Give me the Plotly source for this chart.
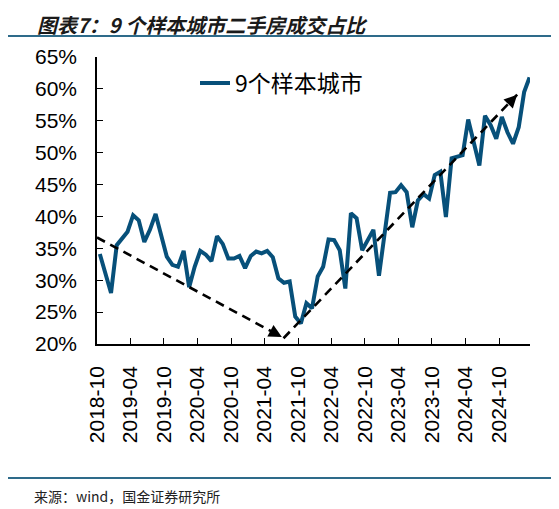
import math
import pandas as pd
import plotly.graph_objects as go

# 9个样本城市二手房成交占比（%），月度 2018-10 ~ 2025-03
months = pd.date_range("2018-10-01", "2025-03-01", freq="MS")
share_9city = [
    34.1, 31.1, 28.0, 35.5, 36.6, 37.6, 40.2, 39.4, 36.0, 37.9, 40.4, 37.3,
    33.7, 32.4, 32.1, 34.6, 28.9, 32.1, 34.6, 34.0, 33.0, 36.9, 35.7, 33.4,
    33.4, 33.8, 31.9, 33.8, 34.5, 34.2, 34.6, 33.6, 30.3, 29.6, 29.8, 24.3,
    23.2, 26.4, 25.6, 30.6, 32.1, 36.4, 36.3, 34.7, 28.7, 40.5, 39.7, 34.7,
    36.3, 37.9, 30.7, 37.2, 43.7, 43.8, 44.9, 43.8, 38.3, 42.5, 43.5, 42.8,
    46.5, 47.0, 39.9, 49.1, 49.3, 49.6, 55.2, 51.6, 48.0, 55.8, 54.3, 52.2,
    55.6, 53.2, 51.4, 54.0, 59.5, 61.8,
]
series_name = "9个样本城市"

# 趋势箭头（起点 -> 终点）
trend_x = [["2018-10-01", "2021-07-05"], ["2021-07-14", "2025-01-08"]]
trend_y = [[36.7, 21.1], [20.9, 59.1]]

title_text = "图表7：9 个样本城市二手房成交占比"
source_text = "来源：wind，国金证券研究所"

x_range = ["2018-10-01", "2025-03-19"]
y_range = [20, 65]

# 页面 body 默认有 8px 边距，图整体向右下偏移 8px
OFF = 8
W, H = 559 - OFF, 509 - OFF
L, R, T, B = 97 - OFF, 29, 57 - OFF, 165
pw, ph = W - L - R, H - T - B


def px(x):
    return (x - OFF - L) / pw


def py(y):
    return (H - B - (y - OFF)) / ph


# 数据坐标 -> 像素（用于算箭头方向）
days_total = (pd.Timestamp(x_range[1]) - pd.Timestamp(x_range[0])).days
px_per_day = pw / days_total
px_per_pct = ph / (y_range[1] - y_range[0])

line_col = "#07507A"
rule_col = "#2E6B8A"
tick_font = dict(family="Liberation Sans, Arial, sans-serif", size=21, color="black")

fig = go.Figure()
fig.add_trace(go.Scatter(
    x=months, y=share_9city, name=series_name, mode="lines",
    xperiod="M1", xperiodalignment="middle",
    line=dict(color=line_col, width=4),
))

# 虚线箭头：虚线 + 只画箭头头部
for xs, ys in zip(trend_x, trend_y):
    fig.add_trace(go.Scatter(
        x=xs, y=ys, mode="lines", showlegend=False, hoverinfo="skip",
        line=dict(color="black", width=2.6, dash="9px,6px"),
    ))
    dx = (pd.Timestamp(xs[1]) - pd.Timestamp(xs[0])).days * px_per_day
    dy = -(ys[1] - ys[0]) * px_per_pct
    n = math.hypot(dx, dy)
    tail = 10
    fig.add_annotation(
        x=xs[1], y=ys[1], xref="x", yref="y",
        ax=-dx / n * tail, ay=-dy / n * tail,
        text="", showarrow=True, arrowhead=2,
        arrowsize=1.0, arrowwidth=2.6, arrowcolor="black", standoff=0,
    )

# 标题、来源和分隔线
fig.add_annotation(x=px(35), y=py(OFF), xref="paper", yref="paper", text=title_text,
                   showarrow=False, xanchor="left", yanchor="top",
                   font=dict(family="Noto Sans CJK SC", size=20, color="#1a1a1a",
                             weight="bold", style="italic"))
fig.add_annotation(x=px(32), y=py(496), xref="paper", yref="paper", text=source_text,
                   showarrow=False, xanchor="left", yanchor="middle",
                   font=dict(family="Noto Sans CJK SC", size=14, color="#222"))
fig.add_shape(type="line", xref="paper", yref="paper", x0=px(5), x1=px(555),
              y0=py(36), y1=py(36), line=dict(color=rule_col, width=2))
fig.add_shape(type="line", xref="paper", yref="paper", x0=px(5), x1=px(555),
              y0=py(478), y1=py(478), line=dict(color=rule_col, width=2))

fig.update_layout(
    width=W, height=H,
    margin=dict(l=L, r=R, t=T, b=B),
    paper_bgcolor="white", plot_bgcolor="white",
    showlegend=True,
    legend=dict(x=px(195), y=py(83), xanchor="left", yanchor="middle",
                bgcolor="rgba(0,0,0,0)", borderwidth=0,
                font=dict(family="Noto Sans CJK SC", size=23, color="black")),
    xaxis=dict(
        type="date", range=x_range,
        tick0="2018-10-01", dtick="M6", tickformat="%Y-%m", tickangle=-90,
        showgrid=False, zeroline=False, showline=True, linecolor="black", linewidth=1.5,
        ticks="inside", ticklen=6, tickwidth=1.2, tickcolor="black",
        tickfont=tick_font, ticklabelstandoff=12,
    ),
    yaxis=dict(
        range=y_range, dtick=5, ticksuffix="%",
        showgrid=False, zeroline=False, showline=True, linecolor="black", linewidth=1.5,
        ticks="inside", ticklen=6, tickwidth=1.2, tickcolor="black",
        tickfont=tick_font, ticklabelstandoff=14,
    ),
)

fig.write_html("out.html")
